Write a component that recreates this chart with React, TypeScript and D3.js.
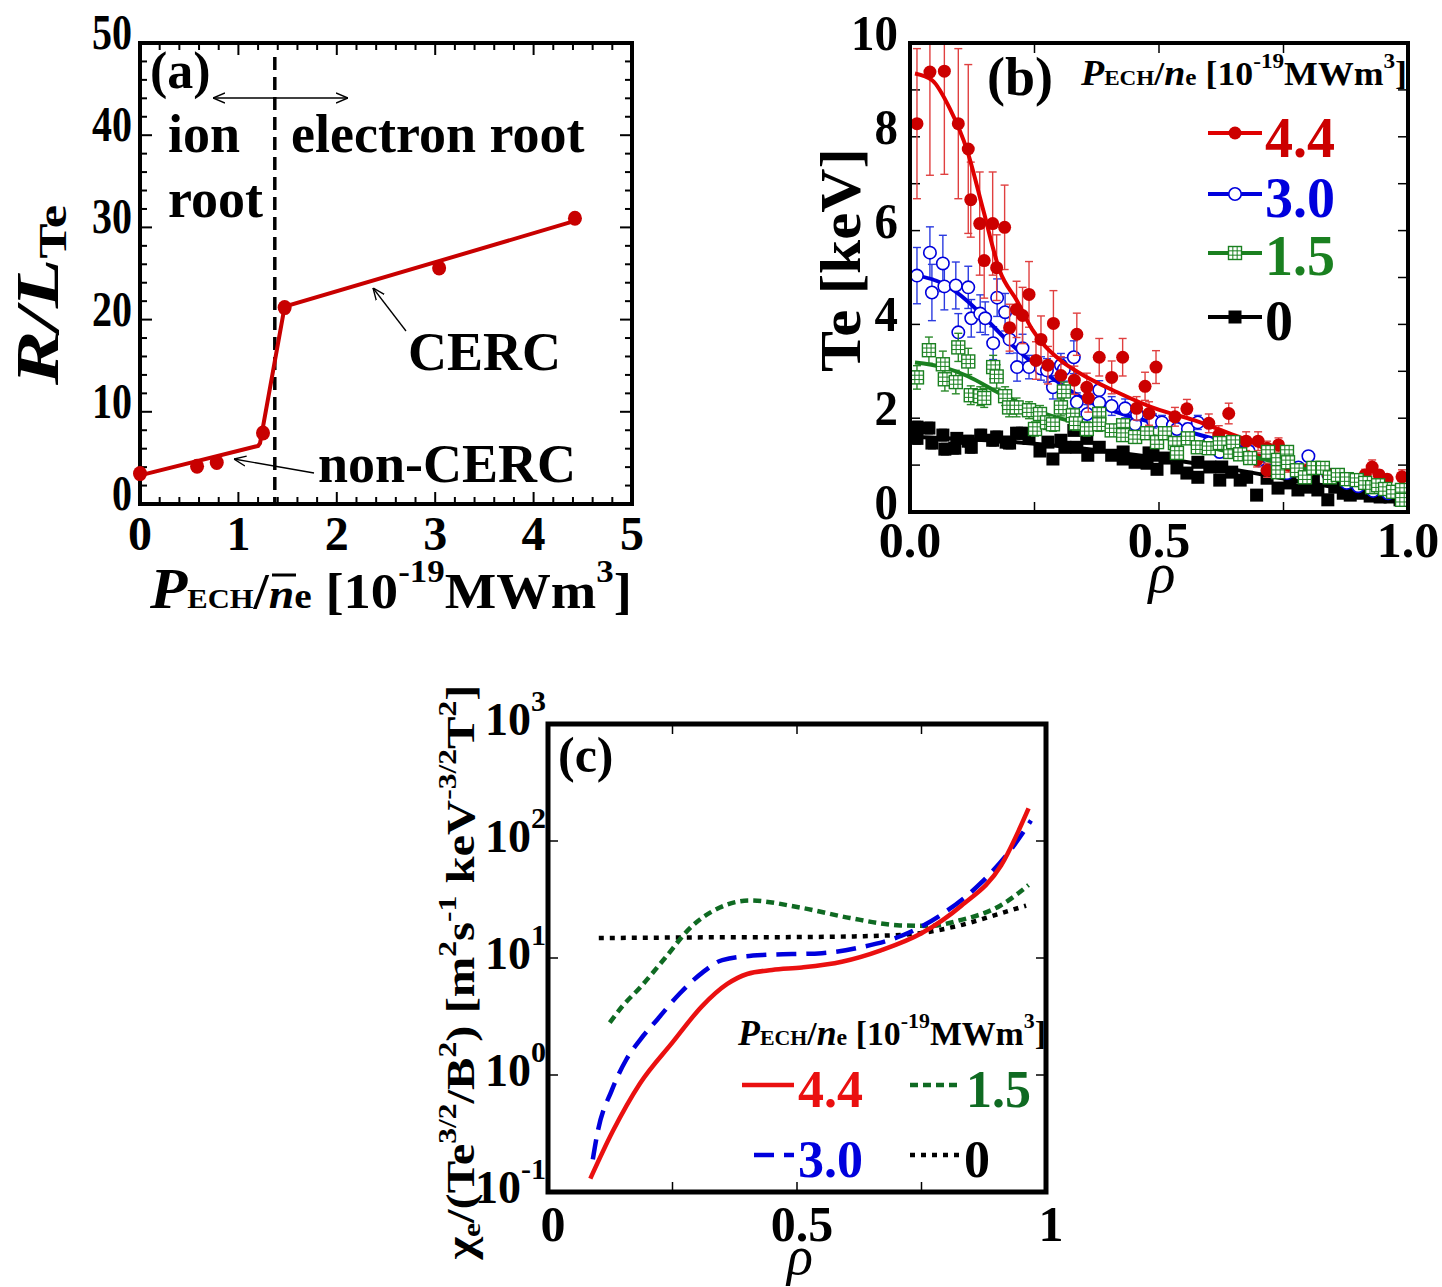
import React from 'react';
import * as d3 from 'd3';

const FONT = "'Liberation Serif','Times New Roman',Times,serif";

// ---------------- Panel (a) ----------------
const aPower = [0, 0.58, 0.78, 1.25, 1.47, 3.04, 4.42];
const aRLTe = [3.3, 4.1, 4.5, 7.7, 21.3, 25.6, 31.0];
const aFitPower = [0, 1.2, 1.22, 1.47, 4.42];
const aFitRLTe = [3.1, 6.3, 6.6, 21.4, 30.7];
const aBoundary = 1.37;
const aXTicks = [0, 1, 2, 3, 4, 5];
const aYTicks = [0, 10, 20, 30, 40, 50];

// ---------------- Panel (b) ----------------  [rho, Te, err]
const bRed: number[][] = [
  [0.014, 8.28, 1.6], [0.04, 9.38, 2.2], [0.069, 9.4, 2.2], [0.097, 8.28, 1.6], [0.117, 7.74, 1.8],
  [0.122, 6.66, 0.8], [0.14, 6.15, 1.1], [0.149, 5.36, 0.8], [0.166, 6.15, 1.1], [0.174, 5.21, 0.7],
  [0.19, 6.07, 0.9], [0.2, 3.93, 0.5], [0.214, 4.32, 0.6], [0.226, 4.19, 0.6], [0.239, 4.64, 0.7],
  [0.253, 3.23, 0.4], [0.263, 3.68, 0.5], [0.277, 3.13, 0.4], [0.288, 4.02, 0.7], [0.303, 2.91, 0.4],
  [0.33, 2.81, 0.3], [0.335, 3.79, 0.45], [0.355, 2.66, 0.3], [0.358, 2.43, 0.3], [0.38, 3.3, 0.4],
  [0.405, 2.87, 0.35], [0.427, 3.3, 0.4], [0.455, 2.21, 0.25], [0.472, 2.68, 0.3], [0.48, 2.1, 0.25],
  [0.494, 3.09, 0.35], [0.532, 2.03, 0.2], [0.556, 2.2, 0.2], [0.6, 1.89, 0.2], [0.62, 1.64, 0.2],
  [0.64, 2.1, 0.22], [0.675, 1.51, 0.2], [0.697, 1.11, 0.15], [0.699, 1.51, 0.2], [0.717, 1.36, 0.15],
  [0.717, 0.89, 0.15], [0.74, 1.43, 0.15], [0.76, 1.0, 0.15], [0.8, 0.9, 0.12], [0.84, 0.8, 0.1],
  [0.88, 0.7, 0.1], [0.914, 0.79, 0.12], [0.928, 0.96, 0.15], [0.942, 0.79, 0.1], [0.958, 0.7, 0.1],
  [0.988, 0.75, 0.15],
];
const bBlue: number[][] = [
  [0.014, 5.04, 0.6], [0.04, 5.53, 0.55], [0.044, 4.68, 0.6], [0.066, 5.3, 0.6], [0.069, 4.81, 0.5],
  [0.092, 4.83, 0.5], [0.097, 3.83, 0.4], [0.117, 4.79, 0.45], [0.123, 4.13, 0.4], [0.141, 4.23, 0.4],
  [0.151, 4.13, 0.35], [0.167, 3.6, 0.35], [0.175, 4.57, 0.4], [0.191, 4.26, 0.4], [0.2, 3.68, 0.3],
  [0.215, 3.09, 0.3], [0.226, 3.49, 0.3], [0.239, 3.09, 0.25], [0.263, 3.06, 0.25], [0.275, 3.02, 0.25],
  [0.287, 2.66, 0.25], [0.303, 3.13, 0.25], [0.309, 3.04, 0.25], [0.329, 3.3, 0.35], [0.335, 2.34, 0.2],
  [0.356, 2.09, 0.2], [0.38, 2.6, 0.2], [0.38, 2.33, 0.2], [0.405, 2.26, 0.2], [0.432, 2.21, 0.2],
  [0.452, 1.87, 0.15], [0.456, 2.08, 0.15], [0.488, 1.94, 0.15], [0.506, 1.91, 0.15], [0.528, 1.85, 0.15],
  [0.536, 1.77, 0.12], [0.558, 1.77, 0.12], [0.578, 1.91, 0.15], [0.6, 1.47, 0.12], [0.622, 1.28, 0.12],
  [0.65, 1.35, 0.1], [0.68, 1.3, 0.1], [0.7, 1.1, 0.1], [0.72, 1.15, 0.1], [0.74, 1.23, 0.1],
  [0.757, 0.83, 0.1], [0.78, 0.95, 0.1], [0.8, 1.19, 0.1], [0.84, 0.8, 0.1], [0.877, 0.62, 0.08],
  [0.9, 0.55, 0.08], [0.93, 0.45, 0.08], [0.96, 0.4, 0.08],
];
const bGreen: number[][] = [
  [0.014, 2.87, 0.25], [0.038, 3.45, 0.28], [0.066, 3.15, 0.28], [0.07, 2.83, 0.25], [0.092, 2.77, 0.25],
  [0.097, 3.51, 0.3], [0.117, 3.21, 0.28], [0.122, 2.49, 0.2], [0.141, 2.47, 0.2], [0.149, 2.43, 0.2],
  [0.167, 3.09, 0.25], [0.174, 2.89, 0.25], [0.191, 2.47, 0.2], [0.199, 2.23, 0.2], [0.214, 2.23, 0.2],
  [0.239, 2.17, 0.18], [0.251, 1.77, 0.15], [0.261, 2.09, 0.18], [0.275, 1.91, 0.15], [0.287, 1.87, 0.15],
  [0.303, 2.23, 0.18], [0.309, 2.57, 0.2], [0.327, 2.06, 0.15], [0.333, 1.89, 0.15], [0.355, 1.77, 0.15],
  [0.38, 2.09, 0.15], [0.38, 1.87, 0.15], [0.405, 1.74, 0.12], [0.428, 1.85, 0.12], [0.428, 1.64, 0.12],
  [0.452, 1.6, 0.12], [0.476, 1.68, 0.12], [0.496, 1.49, 0.1], [0.512, 1.68, 0.1], [0.532, 1.47, 0.1],
  [0.536, 1.26, 0.1], [0.558, 1.57, 0.1], [0.578, 1.38, 0.1], [0.6, 1.36, 0.1], [0.622, 1.47, 0.1],
  [0.643, 1.28, 0.1], [0.649, 1.49, 0.1], [0.663, 1.23, 0.1], [0.683, 1.15, 0.1], [0.719, 1.28, 0.1],
  [0.739, 1.11, 0.08], [0.739, 0.85, 0.08], [0.757, 1.28, 0.08], [0.759, 1.06, 0.08], [0.777, 0.89, 0.08],
  [0.793, 0.74, 0.08], [0.81, 0.94, 0.08], [0.829, 0.94, 0.08], [0.843, 0.74, 0.08], [0.859, 0.79, 0.08],
  [0.877, 0.7, 0.08], [0.897, 0.68, 0.08], [0.914, 0.62, 0.08], [0.928, 0.53, 0.08], [0.94, 0.57, 0.08],
  [0.954, 0.49, 0.08], [0.97, 0.43, 0.08], [0.988, 0.47, 0.08], [0.988, 0.26, 0.08],
];
const bBlack: number[][] = [
  [0.014, 1.57, 0.12], [0.014, 1.81, 0.12], [0.038, 1.79, 0.12], [0.044, 1.47, 0.12], [0.066, 1.64, 0.12],
  [0.07, 1.34, 0.12], [0.094, 1.57, 0.12], [0.09, 1.36, 0.12], [0.117, 1.51, 0.12], [0.123, 1.38, 0.12],
  [0.142, 1.64, 0.12], [0.166, 1.53, 0.12], [0.174, 1.6, 0.12], [0.193, 1.49, 0.12], [0.2, 1.47, 0.12],
  [0.214, 1.68, 0.12], [0.226, 1.68, 0.12], [0.239, 1.57, 0.12], [0.261, 1.3, 0.1], [0.277, 1.49, 0.1],
  [0.287, 1.13, 0.1], [0.303, 1.53, 0.1], [0.311, 1.38, 0.1], [0.329, 1.74, 0.1], [0.335, 1.38, 0.1],
  [0.355, 1.57, 0.1], [0.357, 1.21, 0.1], [0.38, 1.38, 0.1], [0.405, 1.21, 0.1], [0.428, 1.28, 0.1],
  [0.428, 1.13, 0.1], [0.452, 1.06, 0.1], [0.476, 1.04, 0.1], [0.48, 1.26, 0.1], [0.488, 1.21, 0.1],
  [0.496, 0.91, 0.1], [0.512, 1.15, 0.1], [0.536, 0.94, 0.1], [0.556, 0.83, 0.1], [0.578, 1.06, 0.1],
  [0.578, 0.74, 0.1], [0.602, 0.96, 0.1], [0.622, 0.68, 0.1], [0.626, 0.96, 0.1], [0.646, 0.85, 0.1],
  [0.663, 0.68, 0.1], [0.676, 0.74, 0.1], [0.696, 0.36, 0.1], [0.717, 0.72, 0.1], [0.739, 0.51, 0.1],
  [0.757, 0.89, 0.1], [0.763, 0.62, 0.1], [0.779, 0.47, 0.1], [0.797, 0.53, 0.1], [0.81, 0.68, 0.1],
  [0.819, 0.47, 0.1], [0.839, 0.26, 0.1], [0.853, 0.53, 0.1], [0.87, 0.4, 0.1], [0.884, 0.36, 0.1],
  [0.904, 0.4, 0.1], [0.924, 0.34, 0.1], [0.944, 0.32, 0.1], [0.964, 0.32, 0.1], [0.984, 0.26, 0.1],
];
const bRedFit: number[][] = [
  [0.01, 9.35], [0.045, 9.2], [0.08, 8.6], [0.115, 7.7], [0.148, 6.4], [0.18, 5.15], [0.215, 4.5],
  [0.245, 3.9], [0.3, 3.25], [0.341, 2.96], [0.415, 2.56], [0.502, 2.17], [0.57, 1.96], [0.64, 1.68],
  [0.69, 1.47], [0.72, 1.3],
];
const bBlueFit: number[][] = [
  [0.01, 5.05], [0.066, 4.87], [0.115, 4.5], [0.155, 4.09], [0.195, 3.66], [0.247, 3.17], [0.3, 2.74],
  [0.355, 2.38], [0.415, 2.13], [0.502, 1.87], [0.57, 1.68], [0.64, 1.47], [0.69, 1.32],
];
const bGreenFit: number[][] = [
  [0.01, 3.19], [0.066, 3.09], [0.115, 2.9], [0.18, 2.53], [0.261, 2.13], [0.341, 1.89], [0.448, 1.66],
  [0.502, 1.6], [0.6, 1.38], [0.7, 1.15], [0.8, 0.9], [0.9, 0.65], [0.99, 0.45],
];
const bBlackFit: number[][] = [
  [0.01, 1.6], [0.2, 1.5], [0.35, 1.35], [0.5, 1.15], [0.68, 0.85], [0.8, 0.62], [0.95, 0.38], [1.0, 0.3],
];
const bLegendLabels = ['4.4', '3.0', '1.5', '0'];
const bXTicks = [0, 0.5, 1];
const bXTickLabels = ['0.0', '0.5', '1.0'];
const bYTicks = [0, 2, 4, 6, 8, 10];

// ---------------- Panel (c) ----------------  [rho, chi]
const cRed: number[][] = [
  [0.085, 0.13], [0.13, 0.33], [0.185, 0.85], [0.25, 1.9], [0.31, 3.9], [0.36, 6.0], [0.40, 7.3],
  [0.45, 7.9], [0.51, 8.3], [0.59, 9.3], [0.67, 11.7], [0.75, 16.3], [0.83, 28], [0.91, 62], [0.965, 190],
];
const cBlue: number[][] = [
  [0.09, 0.19], [0.1, 0.33], [0.128, 0.74], [0.157, 1.35], [0.185, 2.0], [0.22, 3.0], [0.265, 5.0],
  [0.31, 7.5], [0.35, 9.6], [0.43, 10.6], [0.55, 11], [0.63, 12.4], [0.71, 15.5], [0.79, 23.5],
  [0.87, 44], [0.93, 85], [0.97, 150],
];
const cGreen: number[][] = [
  [0.124, 2.8], [0.15, 3.9], [0.185, 5.6], [0.235, 10], [0.285, 18], [0.345, 27], [0.405, 31],
  [0.506, 27], [0.606, 22], [0.707, 19], [0.767, 18.8], [0.827, 21], [0.908, 28], [0.965, 42],
];
const cBlack: number[][] = [
  [0.102, 14.8], [0.3, 15.0], [0.5, 15.1], [0.667, 15.5], [0.747, 16.3], [0.827, 19], [0.908, 24], [0.96, 28],
];
const cLegendLabels = ['4.4', '3.0', '1.5', '0'];
const cXTicks = [0, 0.5, 1];
const cXTickLabels = ['0', '0.5', '1'];
const cYExponents = [-1, 0, 1, 2, 3];

const RED_A = '#c80000';
const RED_B = '#cc0000';
const RED_C = '#ea1010';
const BLUE = '#0000dd';
const GREEN_B = '#1a8020';
const GREEN_C = '#0f6a22';

function boxTicks(
  key: string,
  box: { l: number; r: number; t: number; b: number },
  xs: (v: number) => number,
  ys: (v: number) => number,
  xt: { v: number; len: number }[],
  yt: { v: number; len: number }[],
  sw: number,
) {
  const out: any[] = [];
  xt.forEach((t, i) => {
    const x = xs(t.v);
    out.push(<line key={key + 'xb' + i} x1={x} x2={x} y1={box.b} y2={box.b - t.len} stroke="#000" strokeWidth={sw} />);
    out.push(<line key={key + 'xt' + i} x1={x} x2={x} y1={box.t} y2={box.t + t.len} stroke="#000" strokeWidth={sw} />);
  });
  yt.forEach((t, i) => {
    const y = ys(t.v);
    out.push(<line key={key + 'yl' + i} x1={box.l} x2={box.l + t.len} y1={y} y2={y} stroke="#000" strokeWidth={sw} />);
    out.push(<line key={key + 'yr' + i} x1={box.r} x2={box.r - t.len} y1={y} y2={y} stroke="#000" strokeWidth={sw} />);
  });
  return out;
}

function GreenSquare({ x, y, s, color }: { x: number; y: number; s: number; color: string }) {
  const h = s / 2;
  return (
    <g>
      <rect x={x - h} y={y - h} width={s} height={s} fill="#fff" stroke={color} strokeWidth={1.4} />
      <line x1={x - h} x2={x + h} y1={y - s / 6} y2={y - s / 6} stroke={color} strokeWidth={1} />
      <line x1={x - h} x2={x + h} y1={y + s / 6} y2={y + s / 6} stroke={color} strokeWidth={1} />
      <line x1={x - s / 6} x2={x - s / 6} y1={y - h} y2={y + h} stroke={color} strokeWidth={1} />
      <line x1={x + s / 6} x2={x + s / 6} y1={y - h} y2={y + h} stroke={color} strokeWidth={1} />
    </g>
  );
}

function Marker({ kind, x, y }: { kind: string; x: number; y: number }) {
  if (kind === 'red') return <circle cx={x} cy={y} r={6.5} fill={RED_B} />;
  if (kind === 'blue') return <circle cx={x} cy={y} r={6.2} fill="#fff" stroke={BLUE} strokeWidth={1.6} />;
  if (kind === 'green') return <GreenSquare x={x} y={y} s={13} color={GREEN_B} />;
  return <rect x={x - 6.5} y={y - 6.5} width={13} height={13} fill="#000" />;
}

// text drawn with a horizontal squeeze
function SText({ x, y, sx, children, ...rest }: any) {
  return (
    <text transform={`translate(${x},${y}) scale(${sx},1)`} {...rest}>
      {children}
    </text>
  );
}

export default function App() {
  // ---- panel a
  const A = { l: 140, r: 632, t: 43, b: 504 };
  const ax = d3.scaleLinear().domain([0, 5]).range([A.l, A.r]);
  const ay = d3.scaleLinear().domain([0, 50]).range([A.b, A.t]);
  const aLine = d3.line<number>().x((d, i) => ax(aFitPower[i])).y((d) => ay(d));
  const aXt = d3.range(0, 5.001, 0.2).map((v) => ({ v, len: Math.abs(v - Math.round(v)) < 1e-6 ? 12 : 7 }));
  const aYt = d3.range(0, 50.001, 2).map((v) => ({ v, len: v % 10 === 0 ? 12 : 7 }));

  // ---- panel b
  const B = { l: 910, r: 1408, t: 43, b: 512 };
  const bx = d3.scaleLinear().domain([0, 1]).range([B.l, B.r]);
  const by = d3.scaleLinear().domain([0, 10]).range([B.b, B.t]);
  const bLine = d3.line<number[]>().x((d) => bx(d[0])).y((d) => by(d[1])).curve(d3.curveMonotoneX);
  const bXt = [0.25, 0.5, 0.75].map((v) => ({ v, len: 10 }));
  const bYt = d3.range(1, 10, 1).map((v) => ({ v, len: 10 }));

  // ---- panel c
  const C = { l: 548, r: 1046, t: 724, b: 1192 };
  const cx = d3.scaleLinear().domain([0, 1]).range([C.l, C.r]);
  const cy = d3.scaleLog().domain([0.1, 1000]).range([C.b, C.t]);
  const cLine = d3.line<number[]>().x((d) => cx(d[0])).y((d) => cy(d[1])).curve(d3.curveMonotoneX);
  const cXt = [0.25, 0.5, 0.75].map((v) => ({ v, len: 10 }));
  const cYt = [1, 10, 100].map((v) => ({ v, len: 10 }));

  const bSeries = [
    { data: bBlack, fit: bBlackFit, kind: 'black', color: '#000', err: '#000' },
    { data: bBlue, fit: bBlueFit, kind: 'blue', color: BLUE, err: '#2b3be0' },
    { data: bRed, fit: bRedFit, kind: 'red', color: '#e00000', err: '#e04040' },
    { data: bGreen, fit: bGreenFit, kind: 'green', color: GREEN_B, err: '#2a8a2a' },
  ];

  const legendB = [
    { kind: 'red', color: RED_B, lc: '#e00000', y: 133, base: 157 },
    { kind: 'blue', color: BLUE, lc: BLUE, y: 194, base: 217 },
    { kind: 'green', color: GREEN_B, lc: GREEN_B, y: 253, base: 275 },
    { kind: 'black', color: '#000', lc: '#000', y: 317, base: 340 },
  ];

  const cSeries = [
    { data: cBlack, color: '#000', dash: '5 6' },
    { data: cGreen, color: GREEN_C, dash: '8 5' },
    { data: cBlue, color: BLUE, dash: '20 10' },
    { data: cRed, color: RED_C, dash: '' },
  ];
  const legendC = [
    { x1: 742, x2: 794, y: 1085, tx: 798, base: 1107, color: RED_C, dash: '', label: cLegendLabels[0] },
    { x1: 754, x2: 794, y: 1155, tx: 798, base: 1177, color: BLUE, dash: '20 10', label: cLegendLabels[1] },
    { x1: 910, x2: 962, y: 1085, tx: 966, base: 1107, color: GREEN_C, dash: '8 5', label: cLegendLabels[2] },
    { x1: 910, x2: 960, y: 1155, tx: 964, base: 1177, color: '#000', dash: '5 6', label: cLegendLabels[3] },
  ];

  return (
    <svg
      width={1442}
      height={1287}
      style={{ position: 'absolute', left: 0, top: 0, background: '#fff' }}
      fontFamily={FONT}
      fontWeight="bold"
    >
      <defs>
        <clipPath id="clipB">
          <rect x={B.l} y={B.t} width={B.r - B.l} height={B.b - B.t} />
        </clipPath>
        <clipPath id="clipC">
          <rect x={C.l} y={C.t} width={C.r - C.l} height={C.b - C.t} />
        </clipPath>
        <marker id="openHead" viewBox="0 0 12 12" refX={12} refY={6} markerWidth={12} markerHeight={12} orient="auto-start-reverse" markerUnits="userSpaceOnUse">
          <path d="M0,1 L12,6 L0,11" fill="none" stroke="#000" strokeWidth={1.4} />
        </marker>
      </defs>
      <rect x={0} y={0} width={1442} height={1287} fill="#fff" />

      {/* ================= Panel (a) ================= */}
      <g>
        {boxTicks('a', A, ax, ay, aXt, aYt, 2)}
        <rect x={A.l} y={A.t} width={A.r - A.l} height={A.b - A.t} fill="none" stroke="#000" strokeWidth={4} />
        {aXTicks.map((v) => (
          <text key={'axl' + v} x={ax(v)} y={A.b + 46} textAnchor="middle" fontSize={48}>{v}</text>
        ))}
        {aYTicks.map((v) => (
          <SText key={'ayl' + v} x={A.l - 8} y={ay(v) + 6} sx={0.8} textAnchor="end" fontSize={50}>{v}</SText>
        ))}
        <line x1={ax(aBoundary)} x2={ax(aBoundary)} y1={57} y2={A.b} stroke="#000" strokeWidth={3.5} strokeDasharray="13 7" />
        <path d={aLine(aFitRLTe) || ''} fill="none" stroke={RED_A} strokeWidth={4} />
        {aPower.map((p, i) => (
          <ellipse key={'ad' + i} cx={ax(p)} cy={ay(aRLTe[i])} rx={7} ry={7.5} fill={RED_A} />
        ))}
        <text x={150} y={88} fontSize={52}>(a)</text>
        <line x1={213} x2={348} y1={98} y2={98} stroke="#000" strokeWidth={1.4} markerStart="url(#openHead)" markerEnd="url(#openHead)" />
        <text x={168} y={152} fontSize={54}>ion</text>
        <text x={168} y={217} fontSize={54}>root</text>
        <text x={291} y={152} fontSize={54}>electron root</text>
        <text x={408} y={370} fontSize={54}>CERC</text>
        <text x={318} y={482} fontSize={54}>non-CERC</text>
        <line x1={406} y1={331} x2={373} y2={288} stroke="#000" strokeWidth={1.3} markerEnd="url(#openHead)" />
        <line x1={314} y1={473} x2={234} y2={459} stroke="#000" strokeWidth={1.3} markerEnd="url(#openHead)" />
        <text transform="translate(58,295) rotate(-90)" textAnchor="middle" textLength={180} lengthAdjust="spacingAndGlyphs">
          <tspan fontStyle="italic" fontSize={62}>R/L</tspan>
          <tspan fontSize={40} dy={8}>Te</tspan>
        </text>
        <text x={150} y={608} textLength={482} lengthAdjust="spacingAndGlyphs">
          <tspan fontStyle="italic" fontSize={56}>P</tspan>
          <tspan fontSize={28}>ECH</tspan>
          <tspan fontSize={50}>/</tspan>
          <tspan fontStyle="italic" fontSize={42}>n</tspan>
          <tspan fontSize={36}>e</tspan>
          <tspan fontSize={50}> [10</tspan>
          <tspan fontSize={32} dy={-26}>-19</tspan>
          <tspan fontSize={50} dy={26}>MWm</tspan>
          <tspan fontSize={32} dy={-26}>3</tspan>
          <tspan fontSize={50} dy={26}>]</tspan>
        </text>
        <line x1={272} x2={296} y1={575} y2={575} stroke="#000" strokeWidth={3} />
      </g>

      {/* ================= Panel (b) ================= */}
      <g>
        {boxTicks('b', B, bx, by, bXt, bYt, 1.5)}
        <g clipPath="url(#clipB)">
          {bSeries.map((s) => (
            <g key={'bs' + s.kind}>
              {s.data.map((d, i) => (
                <g key={'be' + i} stroke={s.err} strokeWidth={1.4}>
                  <line x1={bx(d[0])} x2={bx(d[0])} y1={by(d[1] - d[2])} y2={by(d[1] + d[2])} />
                  <line x1={bx(d[0]) - 4} x2={bx(d[0]) + 4} y1={by(d[1] - d[2])} y2={by(d[1] - d[2])} />
                  <line x1={bx(d[0]) - 4} x2={bx(d[0]) + 4} y1={by(d[1] + d[2])} y2={by(d[1] + d[2])} />
                </g>
              ))}
              <path d={bLine(s.fit) || ''} fill="none" stroke={s.color} strokeWidth={4} />
              {s.data.map((d, i) => (
                <Marker key={'bm' + i} kind={s.kind} x={bx(d[0])} y={by(d[1])} />
              ))}
            </g>
          ))}
        </g>
        <rect x={B.l} y={B.t} width={B.r - B.l} height={B.b - B.t} fill="none" stroke="#000" strokeWidth={4} />
        {bXTicks.map((v, i) => (
          <text key={'bxl' + i} x={bx(v)} y={B.b + 45} textAnchor="middle" fontSize={50}>{bXTickLabels[i]}</text>
        ))}
        {bYTicks.map((v) => (
          <SText key={'byl' + v} x={B.l - 12} y={by(v) + 7} sx={0.92} textAnchor="end" fontSize={51}>{v}</SText>
        ))}
        <text x={987} y={95} fontSize={54}>(b)</text>
        <text x={1081} y={85} textLength={326} lengthAdjust="spacingAndGlyphs">
          <tspan fontStyle="italic" fontSize={36}>P</tspan>
          <tspan fontSize={22}>ECH</tspan>
          <tspan fontSize={34}>/</tspan>
          <tspan fontStyle="italic" fontSize={36}>n</tspan>
          <tspan fontSize={24}>e</tspan>
          <tspan fontSize={34}> [10</tspan>
          <tspan fontSize={22} dy={-17}>-19</tspan>
          <tspan fontSize={34} dy={17}>MWm</tspan>
          <tspan fontSize={22} dy={-17}>3</tspan>
          <tspan fontSize={34} dy={17}>]</tspan>
        </text>
        {legendB.map((l, i) => (
          <g key={'lb' + i}>
            <line x1={1208} x2={1262} y1={l.y} y2={l.y} stroke={l.lc} strokeWidth={4} />
            <Marker kind={l.kind} x={1235} y={l.y} />
            <text x={1265} y={l.base} fontSize={56} fill={l.color}>{bLegendLabels[i]}</text>
          </g>
        ))}
        <text transform="translate(860,260) rotate(-90)" textAnchor="middle" fontSize={56} textLength={224} lengthAdjust="spacingAndGlyphs">Te [keV]</text>
        <text x={1162} y={592} textAnchor="middle" fontSize={56} fontStyle="italic" fontWeight="normal">ρ</text>
      </g>

      {/* ================= Panel (c) ================= */}
      <g>
        {boxTicks('c', C, cx, cy, cXt, cYt, 1.5)}
        <g clipPath="url(#clipC)">
          {cSeries.map((s, i) => (
            <path key={'cs' + i} d={cLine(s.data) || ''} fill="none" stroke={s.color} strokeWidth={4.5} strokeDasharray={s.dash || undefined} />
          ))}
        </g>
        <rect x={C.l} y={C.t} width={C.r - C.l} height={C.b - C.t} fill="none" stroke="#000" strokeWidth={5} />
        {cXTicks.map((v, i) => (
          <text key={'cxl' + i} x={cx(v) + 5} y={C.b + 49} textAnchor="middle" fontSize={50}>{cXTickLabels[i]}</text>
        ))}
        {cYExponents.map((e) => (
          <text key={'cyl' + e} x={C.l - 2} y={cy(Math.pow(10, e)) + 11} textAnchor="end">
            <tspan fontSize={46}>10</tspan>
            <tspan fontSize={30} dy={-24}>{e}</tspan>
          </text>
        ))}
        <text x={558} y={772} fontSize={50}>(c)</text>
        <text x={738} y={1045} textLength={308} lengthAdjust="spacingAndGlyphs">
          <tspan fontStyle="italic" fontSize={36}>P</tspan>
          <tspan fontSize={22}>ECH</tspan>
          <tspan fontSize={34}>/</tspan>
          <tspan fontStyle="italic" fontSize={36}>n</tspan>
          <tspan fontSize={24}>e</tspan>
          <tspan fontSize={34}> [10</tspan>
          <tspan fontSize={22} dy={-17}>-19</tspan>
          <tspan fontSize={34} dy={17}>MWm</tspan>
          <tspan fontSize={22} dy={-17}>3</tspan>
          <tspan fontSize={34} dy={17}>]</tspan>
        </text>
        {legendC.map((l, i) => (
          <g key={'lc' + i}>
            <line x1={l.x1} x2={l.x2} y1={l.y} y2={l.y} stroke={l.color} strokeWidth={4.5} strokeDasharray={l.dash || undefined} />
            <text x={l.tx} y={l.base} fontSize={52} fill={l.color}>{l.label}</text>
          </g>
        ))}
        <text transform="translate(474,972) rotate(-90)" textAnchor="middle" textLength={575} lengthAdjust="spacingAndGlyphs" fontSize={40}>
          <tspan>χ</tspan>
          <tspan fontSize={26} dy={6}>e</tspan>
          <tspan dy={-6}>/(Te</tspan>
          <tspan fontSize={26} dy={-18}>3/2</tspan>
          <tspan dy={18}>/B</tspan>
          <tspan fontSize={26} dy={-18}>2</tspan>
          <tspan dy={18}>) [m</tspan>
          <tspan fontSize={26} dy={-18}>2</tspan>
          <tspan dy={18}>s</tspan>
          <tspan fontSize={26} dy={-18}>-1</tspan>
          <tspan dy={18}> keV</tspan>
          <tspan fontSize={26} dy={-18}>-3/2</tspan>
          <tspan dy={18}>T</tspan>
          <tspan fontSize={26} dy={-18}>2</tspan>
          <tspan dy={18}>]</tspan>
        </text>
        <text x={800} y={1274} textAnchor="middle" fontSize={54} fontStyle="italic" fontWeight="normal">ρ</text>
      </g>
    </svg>
  );
}
